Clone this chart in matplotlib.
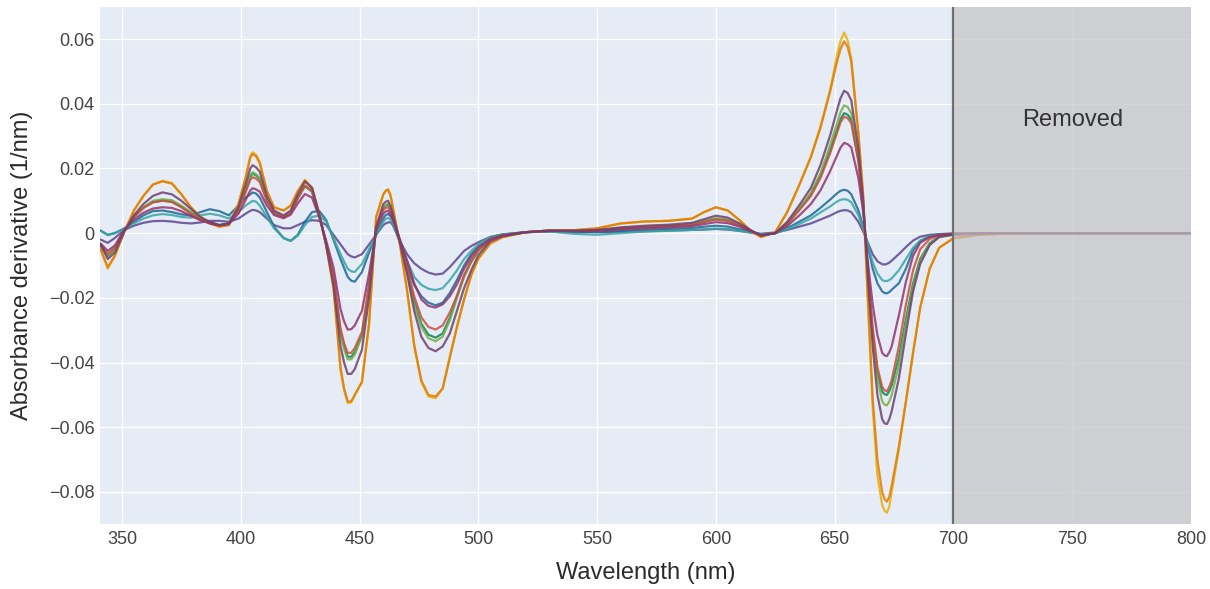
import matplotlib
matplotlib.use("Agg")
import matplotlib.pyplot as plt
import numpy as np

# ---------------- data (derivative values in units of 1e-3 per nm) ----------------
wavelength = [341, 344, 347, 351, 355, 359, 363, 367, 371, 375,
              379, 383, 387, 391, 395, 399, 402, 404, 405, 406.5, 408, 411,
              414, 418, 421, 424, 427, 430, 433, 436, 439, 442, 443.5,
              445, 446.5, 448, 451, 454, 457, 460, 461, 462, 463, 464, 467, 470,
              473, 476, 479, 482, 485, 488, 491, 494, 497, 500,
              505, 510, 520, 530, 540, 550, 560, 570, 580, 590,
              595, 600, 605, 610, 615, 619, 625, 630, 635, 640,
              644, 648, 651, 652.5, 654, 655.5, 657, 660, 662, 664, 666, 668,
              670, 671, 672, 673, 674, 677, 680, 683, 686, 690, 694, 700,
              710, 720, 740, 770, 800]

purple = [-2, -3, -1.5, 1, 2.3, 3.2, 3.7, 3.8, 3.6, 3.2,
          3, 3.3, 3.8, 3.8, 3.5, 4.5, 6, 6.9, 7.2, 7.0, 6.5, 4.5,
          2.5, 1.5, 1.5, 2.5, 3.5, 4, 3.8, 2.5, -0.5, -3.5, -5,
          -6.5, -7.2, -7.5, -6.5, -3.5, -0.5, 2.5, 3, 3.3, 3.4, 2.5, -2.5, -6.5,
          -9.3, -11, -12.2, -12.8, -12.5, -10.5, -8, -5.5, -4, -2.8,
          -1.2, -0.4, 0.3, 0.5, 0.4, 0.3, 0.4, 0.6, 0.8, 1,
          1.1, 1.3, 1.1, 0.7, 0.2, -0.2, 0.2, 1, 2, 3,
          4.2, 5.4, 6.5, 6.9, 7.1, 7.0, 6.5, 3.5, 0.5, -3, -6.5, -8.7,
          -9.6, -9.7, -9.5, -9.1, -8.5, -6.5, -4.3, -2.3, -1.1, -0.5, -0.3, -0.1,
          0, 0, 0, 0, 0]

dark_blue = [0.8, -0.5, 0, 1.5, 3.5, 5.5, 6.8, 7, 6.5, 5.8,
             5.5, 6.5, 7.4, 6.8, 5.5, 8.5, 11, 12, 12.6, 12.2, 11, 6.5,
             2, -1.5, -2.4, -0.5, 3.5, 6.5, 6.9, 4, -2, -8, -10.8,
             -13.5, -14.7, -15, -12, -6, -0.5, 4.5, 5.6, 5.9, 5.3, 4, -3, -10,
             -16, -19.5, -21.5, -22.3, -21.5, -18.5, -14.5, -10, -6.5, -4,
             -1.5, -0.5, 0.3, 0.6, 0.4, 0.4, 0.7, 1, 1.3, 1.6,
             2, 2.3, 2, 1.2, 0.3, -0.4, 0, 1.5, 3.5, 5.5,
             7.8, 10.3, 12.3, 13.1, 13.4, 13.1, 12, 7, 2, -4, -11, -15.5,
             -18, -18.5, -18.6, -18.2, -17.5, -15.5, -11, -5.3, -2.5, -1, -0.4, -0.2,
             0, 0, 0, 0, 0]

teal = [0.7, -0.6, 0, 1.2, 3, 4.5, 5.5, 5.9, 5.6, 5,
        4.8, 5.5, 6, 5.5, 4.5, 6.5, 8.5, 9.5, 10, 9.7, 8.5, 5,
        1.5, -1.5, -2.4, -0.8, 2.5, 5, 5.4, 3.5, -1.5, -6.5, -8.8,
        -11, -11.8, -12, -9.5, -5, -0.5, 3.5, 4.4, 4.7, 4.2, 3, -2.5, -8.5,
        -13.5, -16, -17.2, -17.6, -17, -14.5, -11.5, -8, -5.5, -3.5,
        -1.2, -0.4, 0.3, 0.5, -0.2, -0.5, 0, 0.5, 0.7, 1,
        1.2, 1.4, 1.2, 0.7, 0.1, -0.3, 0, 1.2, 2.8, 4.5,
        6.4, 8.2, 9.8, 10.3, 10.5, 10.3, 9.5, 5.5, 1.5, -3.5, -9, -12.5,
        -14.5, -14.8, -14.8, -14.5, -14, -11.5, -8, -4.5, -2.3, -0.9, -0.4, -0.2,
        0, 0, 0, 0, 0]

dark_green = [-4, -7, -5, 0.8, 5, 7.8, 9.6, 10.1, 9.8, 8.2,
              6.3, 4.4, 3.2, 2.5, 3, 7.3, 13.2, 17.5, 18.4, 17.8, 16.7, 10.3,
              6.4, 5, 6.4, 10.8, 14.5, 12.8, 5.4, -3.5, -13.8, -30.5, -35,
              -38.2, -38.2, -36.8, -31.5, -16.5, 1.5, 7.8, 8.5, 8.8, 7.6, 5.8, -2.5, -11.5,
              -21, -28, -31.4, -32.3, -31, -26.2, -19.5, -13.2, -8.8, -5.4,
              -2, -0.8, 0.3, 0.8, 0.7, 0.8, 1.5, 1.9, 2.2, 2.7,
              3.6, 4.4, 4, 2.5, 0.6, -0.7, 0, 2.9, 7.2, 12,
              17.7, 25.5, 32, 35.3, 37.1, 36.6, 35, 22.5, 8.5, -12.5, -30.5, -43,
              -49, -49.8, -50, -48.8, -47, -38.5, -26.5, -15.5, -8, -3.1, -1, -0.4,
              -0.1, 0, 0, 0, 0]

light_green = [-4, -7, -5, 0.8, 5, 8, 10, 10.5, 10.2, 8.5,
               6.5, 4.5, 3.2, 2.5, 3, 7.5, 13.5, 17.9, 18.8, 18.2, 17, 10.5,
               6.5, 5, 6.5, 11, 14.7, 13, 5.5, -3.5, -14, -31, -35.8,
               -39, -39, -37.5, -32, -17, 1.5, 8, 8.7, 9, 7.8, 6, -2.5, -12,
               -22, -29, -32.5, -33.4, -32, -27, -20, -13.5, -9, -5.5,
               -2, -0.8, 0.3, 0.8, 0.7, 0.8, 1.5, 2, 2.3, 2.8,
               3.8, 4.6, 4.2, 2.6, 0.6, -0.7, 0, 3, 7.5, 12.5,
               18.5, 27, 34, 37.5, 39.5, 39, 37, 24, 9, -13, -32, -45,
               -52, -53, -53.2, -52, -50, -41, -28, -16.5, -8.5, -3.3, -1.1, -0.4,
               -0.1, 0, 0, 0, 0]

yellow = [-5, -11, -7, 0.5, 7, 11.5, 15, 16.2, 15.5, 12,
          8, 5, 3, 2, 2.5, 9, 17, 23.8, 25, 24.2, 22, 13,
          8, 7, 8.5, 13, 16.5, 14, 6, -4, -17, -42.5, -48.5,
          -52.5, -52.3, -50, -46, -28, 5, 12, 13.2, 13.6, 11.8, 8, -3.5, -18,
          -35, -46, -50.5, -51, -48, -38, -29, -20.5, -13, -8,
          -3.2, -1.3, 0.3, 0.8, 0.9, 1.5, 3, 3.6, 3.8, 4.5,
          6.5, 8, 7, 4, 0.5, -1.2, 0.3, 6.5, 14.7, 23.7,
          33, 44, 55, 59.5, 62, 59.5, 54, 30, 11, -22, -54, -75,
          -84, -85.8, -86.4, -84.5, -80, -67, -52, -37, -23, -11, -4.5, -1.5,
          -0.5, -0.2, 0, 0, 0]

orange = [-5, -10.5, -7, 0.5, 7, 11.5, 15, 16, 15.3, 12,
          8, 5, 3, 2, 2.5, 9, 17, 23.3, 24.5, 23.7, 21.5, 13,
          8, 7, 8.5, 13, 16.2, 14, 6, -4, -16.5, -41.5, -48,
          -52, -52, -50, -46, -28, 5, 12, 13, 13.4, 11.7, 8, -3.5, -17.5,
          -34.5, -45.5, -50, -50.5, -48, -38.6, -29, -20.5, -13, -7.8,
          -3.2, -1.3, 0.3, 0.8, 0.9, 1.5, 3, 3.6, 3.8, 4.5,
          6.5, 8, 7, 4, 0.5, -1.2, 0.3, 6.5, 14.7, 23.5,
          32.5, 43.5, 53, 57, 59.3, 57.5, 53, 31, 12, -20, -51, -70,
          -80, -82.2, -83, -81.5, -78, -66, -52, -37, -23, -11, -4.5, -1.6,
          -0.6, -0.2, 0, 0, 0]

red = [-3.5, -6.5, -4.5, 1, 5, 7.8, 9.5, 10, 9.6, 8,
       6, 4.2, 3, 2.4, 3, 7, 12.5, 16.5, 17.3, 16.8, 15.8, 9.8,
       6.2, 4.9, 6.3, 10.8, 14.7, 13, 5.8, -3, -13, -29.5, -34,
       -37, -37, -35.5, -30.5, -16, 1.5, 7.2, 7.8, 8, 6.8, 5, -2.3, -10.5,
       -19.5, -26, -29, -29.8, -28.5, -24.5, -19.4, -13, -8.5, -5.2,
       -2, -0.8, 0.3, 0.8, 0.7, 0.8, 1.4, 1.8, 2.1, 2.6,
       3.4, 4.2, 3.8, 2.4, 0.6, -0.7, 0, 2.8, 7, 11.5,
       17, 24.5, 31, 34.3, 36, 35.5, 34, 22, 8.5, -12, -29, -41.5,
       -47.5, -48.6, -48.9, -47.5, -45.5, -35, -22, -11.5, -5, -1.8, -0.7, -0.3,
       -0.1, 0, 0, 0, 0]

magenta = [-3.2, -5.5, -3.8, 1, 4.2, 6.3, 7.6, 8, 7.8, 6.8,
           5.3, 4, 3, 2.4, 2.8, 6, 10.2, 13.2, 13.9, 13.5, 12.8, 8.5,
           5.6, 4.6, 5.7, 9.2, 12.1, 11, 5, -2.5, -10.5, -23.5, -27.3,
           -29.8, -29.7, -28.5, -24, -12.5, 1, 6, 6.7, 6.9, 5.9, 4.3, -2, -8.5,
           -15.5, -20.5, -22.5, -23, -22, -19.5, -15.8, -11, -7.3, -4.5,
           -1.8, -0.7, 0.3, 0.7, 0.6, 0.7, 1.2, 1.5, 1.8, 2.2,
           2.8, 3.4, 3.1, 2, 0.5, -0.6, 0, 2.2, 5.4, 9,
           13.2, 19, 24, 26.5, 27.9, 27.5, 26.5, 17, 6.5, -9, -22, -31.5,
           -37, -37.8, -38, -36.8, -35, -25.5, -15, -7, -3, -1.2, -0.5, -0.2,
           0, 0, 0, 0, 0]

dark_purple = [-3.5, -8, -6, 0.5, 5.5, 9, 11.5, 12.6, 12, 10,
               7.5, 5, 3.5, 2.5, 3, 8, 15, 20, 21, 20.3, 19, 11.5,
               7, 5.5, 7, 12, 16, 14, 6, -4, -16, -35, -40,
               -43.5, -43.5, -42, -36, -20, 2, 9, 9.7, 10, 8.5, 6, -3, -12.5,
               -24, -32, -35.5, -36.5, -35, -31, -24, -17, -11.5, -6.8,
               -2.5, -1, 0.3, 0.8, 0.8, 1, 1.8, 2.3, 2.6, 3.2,
               4.3, 5.4, 4.8, 3, 0.8, -0.8, 0, 3.5, 8.5, 14,
               21, 30, 38, 41.8, 44, 43.3, 41, 26, 10, -14, -35, -50,
               -57.5, -58.8, -59, -57.5, -55, -45, -31, -18, -9.5, -3.7, -1.2, -0.5,
               -0.2, 0, 0, 0, 0]

series = [purple, dark_blue, teal, dark_green, light_green,
          yellow, orange, red, magenta, dark_purple]
colors = ["rgb(95,70,144)", "rgb(29,105,150)", "rgb(56,166,165)", "rgb(15,133,84)",
          "rgb(115,175,72)", "rgb(237,173,8)", "rgb(225,124,5)", "rgb(204,80,62)",
          "rgb(148,52,110)", "rgb(111,64,112)"]

x_ticks = [350, 400, 450, 500, 550, 600, 650, 700, 750, 800]
y_ticks = [-0.08, -0.06, -0.04, -0.02, 0, 0.02, 0.04, 0.06]
y_tick_labels = ["\u22120.08", "\u22120.06", "\u22120.04", "\u22120.02", "0", "0.02", "0.04", "0.06"]
removed_start, removed_end = 700, 800

# ---------------- drawing ----------------
plt.rcParams["font.family"] = ["Liberation Sans", "DejaVu Sans"]


def rgb(s):
    v = s[s.index("(") + 1:s.index(")")].split(",")
    return tuple(int(c) / 255 for c in v)


W, H = 1210, 589
fig = plt.figure(figsize=(W / 100, H / 100), dpi=100)
ax = fig.add_axes([100 / W, 1 - 524 / H, 1091 / W, 517 / H])
ax.set_facecolor("#E5ECF6")
for sp in ax.spines.values():
    sp.set_visible(False)

wl = np.array(wavelength, dtype=float)
for vals, col in zip(series, colors):
    assert len(vals) == len(wl), (len(vals), len(wl))
    ax.plot(wl, np.array(vals) * 1e-3, color=rgb(col), lw=1.6, alpha=0.85,
            solid_joinstyle="round", solid_capstyle="round", zorder=2)

ax.axvspan(removed_start, removed_end, facecolor="#c3c3c3", alpha=0.7,
           edgecolor="none", zorder=3)
ax.axvline(removed_start, color="#6e6e6e", lw=1.6, zorder=4)
ax.text((removed_start + removed_end) / 2, 0.0349, "Removed", ha="center",
        va="center", fontsize=17, color="#333333", zorder=5)

ax.set_xlim(340.74, 800)
ax.set_ylim(-0.0899, 0.0699)
ax.set_xticks(x_ticks)
ax.set_yticks(y_ticks)
ax.set_yticklabels(y_tick_labels)
ax.grid(True, color="white", lw=1.0)
ax.set_axisbelow(True)
ax.tick_params(axis="both", length=0, labelsize=13, colors="#444444")
ax.tick_params(axis="y", pad=4)
ax.tick_params(axis="x", pad=5)

fig.text(645.5 / W, 1 - 573 / H, "Wavelength (nm)", ha="center", va="center",
         fontsize=17, color="#2b2b2b")
fig.text(22 / W, 1 - 265.5 / H, "Absorbance derivative (1/nm)", ha="center",
         va="center", rotation=90, fontsize=17, color="#2b2b2b")

fig.savefig("out.png", dpi=100)
